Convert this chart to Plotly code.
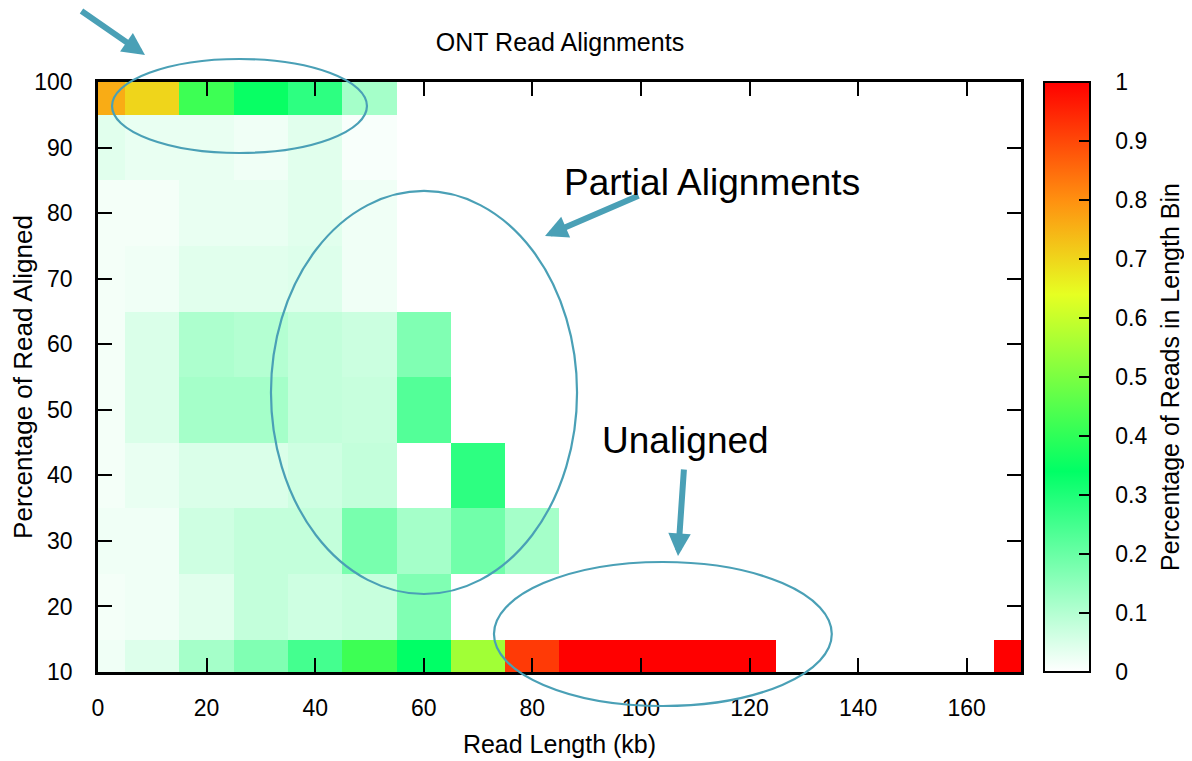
import plotly.graph_objects as go

# Read length bin centres (kb) and % aligned bin centres
read_length_kb = [0, 10, 20, 30, 40, 50, 60, 70, 80, 90, 100, 110, 120, 130, 140, 150, 160, 170]
pct_aligned = [10, 20, 30, 40, 50, 60, 70, 80, 90, 100]

N = None
# fraction of reads in length bin; rows follow pct_aligned order
row_10 = [0.02, 0.045, 0.12, 0.17, 0.25, 0.42, 0.34, 0.55, 0.92, 1.0, 1.0, 1.0, 1.0, N, N, N, N, 1.0]
row_20 = [0.015, 0.02, 0.04, 0.08, 0.065, 0.075, 0.17, N, N, N, N, N, N, N, N, N, N, N]
row_30 = [0.02, 0.02, 0.065, 0.08, 0.08, 0.18, 0.12, 0.19, 0.12, N, N, N, N, N, N, N, N, N]
row_40 = [0.015, 0.03, 0.05, 0.05, 0.065, 0.08, N, 0.28, N, N, N, N, N, N, N, N, N, N]
row_50 = [0.015, 0.05, 0.12, 0.12, 0.08, 0.075, 0.23, N, N, N, N, N, N, N, N, N, N, N]
row_60 = [0.015, 0.05, 0.11, 0.10, 0.08, 0.07, 0.17, N, N, N, N, N, N, N, N, N, N, N]
row_70 = [0.015, 0.02, 0.04, 0.04, 0.045, 0.02, N, N, N, N, N, N, N, N, N, N, N, N]
row_80 = [0.015, 0.015, 0.03, 0.03, 0.04, 0.02, N, N, N, N, N, N, N, N, N, N, N, N]
row_90 = [0.04, 0.03, 0.03, 0.02, 0.04, 0.01, N, N, N, N, N, N, N, N, N, N, N, N]
row_100 = [0.76, 0.70, 0.42, 0.35, 0.28, 0.12, N, N, N, N, N, N, N, N, N, N, N, N]

z = [row_10, row_20, row_30, row_40, row_50, row_60, row_70, row_80, row_90, row_100]

x_ticks = [0, 20, 40, 60, 80, 100, 120, 140, 160]
y_ticks = [10, 20, 30, 40, 50, 60, 70, 80, 90, 100]
cb_ticks = [0, 0.1, 0.2, 0.3, 0.4, 0.5, 0.6, 0.7, 0.8, 0.9, 1]

FONT = "Liberation Sans, Arial, Helvetica, sans-serif"
TEAL = "#4aa0b6"
NB = "\u00a0"

colorscale = [
    [0.0, "#ffffff"],
    [0.34, "#00ff66"],
    [0.64, "#e6ff22"],
    [0.8, "#ff9010"],
    [1.0, "#ff0000"],
]

fig = go.Figure()
fig.add_trace(go.Heatmap(
    x=read_length_kb, y=pct_aligned, z=z,
    zmin=0, zmax=1, colorscale=colorscale,
    hoverongaps=False,
    colorbar=dict(
        x=1.0249, xanchor="left", xpad=0, y=0.5, yanchor="middle", ypad=0,
        len=1.0, lenmode="fraction",
        thickness=46, outlinewidth=2, outlinecolor="black",
        tickvals=cb_ticks, ticktext=[NB * 3 + ("%g" % v) + NB for v in cb_ticks],
        ticks="inside", ticklen=12, tickcolor="black", tickwidth=1.5,
        tickfont=dict(family=FONT, size=23, color="black"),
        title=dict(text="Percentage of Reads in Length Bin", side="right",
                   font=dict(family=FONT, size=25, color="black")),
    ),
))

axis_common = dict(
    showline=True, linecolor="black", linewidth=2.5, mirror="ticks",
    ticks="inside", ticklen=14, tickwidth=1.5, tickcolor="black",
    showgrid=False, zeroline=False, automargin=False,
    tickfont=dict(family=FONT, size=23, color="black"),
)

fig.update_layout(
    width=1184, height=753,
    margin=dict(l=90, r=171, t=74, b=89, autoexpand=False),
    paper_bgcolor="white", plot_bgcolor="white",
    font=dict(family=FONT, color="black"),
    title=dict(text="ONT Read Alignments", x=552 / 1184, xanchor="center",
               y=1 - 34 / 753, yanchor="middle",
               font=dict(family=FONT, size=25, color="black")),
    xaxis=dict(range=[0, 170], tickvals=x_ticks, ticklabelstandoff=14,
               title=dict(text="Read Length (kb)", font=dict(family=FONT, size=25), standoff=16),
               **axis_common),
    yaxis=dict(range=[10, 100], tickvals=y_ticks, ticklabelstandoff=18,
               title=dict(text="Percentage of Read Aligned", font=dict(family=FONT, size=26), standoff=2),
               **axis_common),
)

# ellipses (paper coordinates)
ellipses = [
    (0.0152, 0.8797, 0.2914, 1.039),
    (0.1874, 0.1322, 0.519, 0.8153),
    (0.429, -0.0576, 0.795, 0.1864),
]
for x0, y0, x1, y1 in ellipses:
    fig.add_shape(type="circle", xref="paper", yref="paper", x0=x0, y0=y0, x1=x1, y1=y1,
                  line=dict(color=TEAL, width=2.2), layer="above")

# arrows: (head_x, head_y in paper, tail offset dx, dy in px)
arrows = [
    (0.0509, 1.0458, -65, -45),
    (0.4843, 0.739, 95, -41),
    (0.6284, 0.1966, 6, -88),
]
for hx, hy, dx, dy in arrows:
    fig.add_annotation(x=hx, y=hy, xref="paper", yref="paper",
                       ax=dx, ay=dy,
                       text="", showarrow=True, arrowhead=2, arrowsize=0.75,
                       arrowwidth=6, arrowcolor=TEAL)

fig.add_annotation(x=0.665, y=0.868, xref="paper", yref="paper", text="Partial Alignments",
                   showarrow=False, font=dict(family=FONT, size=37, color="black"))
fig.add_annotation(x=0.637, y=0.393, xref="paper", yref="paper", text="Unaligned",
                   showarrow=False, font=dict(family=FONT, size=37, color="black"))

fig.write_html("out.html")
